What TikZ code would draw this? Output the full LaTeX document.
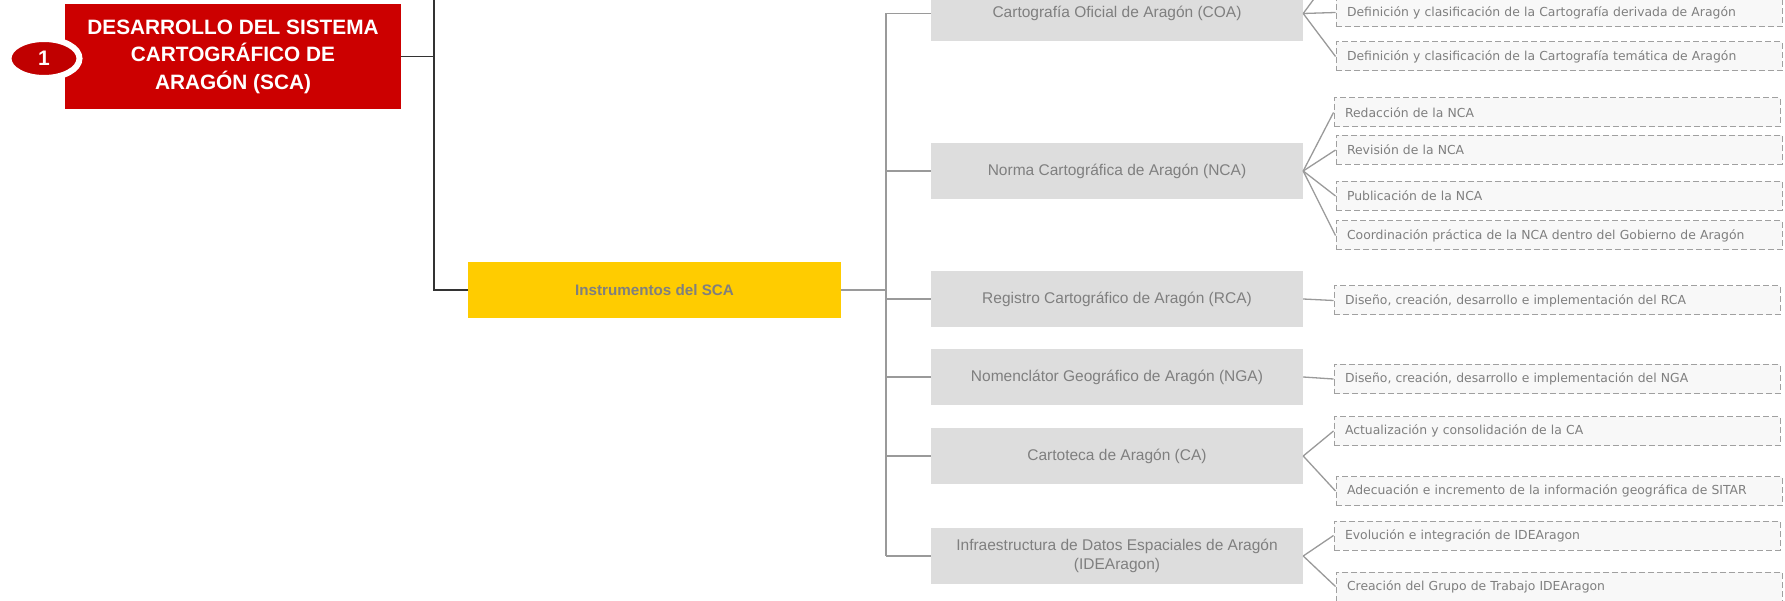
\documentclass[tikz,border=0pt]{standalone}
\usepackage{fontspec}
\setmainfont{Liberation Sans}
\newfontfamily\leaffont{DejaVu Sans}
\usepackage{tikz}
\usetikzlibrary{positioning,shapes.geometric}
\definecolor{Ink}{HTML}{333333}
\definecolor{Wire}{HTML}{9A9A9A}
\definecolor{Muted}{HTML}{7F7F7F}
\definecolor{Red}{HTML}{CC0000}
\definecolor{RedDark}{HTML}{C00000}
\definecolor{Gold}{HTML}{FFCC00}
\definecolor{Stone}{HTML}{DDDDDD}
\definecolor{Paper}{HTML}{F8F8F8}
\definecolor{Dash}{HTML}{A0A0A0}
\tikzset{
  mainbox/.style={fill=Red,text=white,minimum width=336pt,minimum height=105pt,inner sep=0pt,align=center,font=\fontsize{20.8}{27.5}\selectfont\bfseries},
  badge/.style={ellipse,fill=RedDark,draw=white,line width=6pt,minimum width=71pt,minimum height=39pt,inner sep=0pt,text=white,font=\fontsize{21}{21}\selectfont\bfseries},
  groupbox/.style={fill=Gold,text=Muted,minimum width=373pt,minimum height=56pt,inner sep=0pt,font=\fontsize{15.2}{17}\selectfont\bfseries},
  itembox/.style={fill=Stone,text=Muted,minimum width=372pt,minimum height=56pt,inner sep=0pt,align=center,font=\fontsize{15.5}{19}\selectfont},
  taskbox/.style={draw=Dash,line width=1pt,dash pattern=on 6pt off 3pt,fill=Paper,text=Muted,minimum width=446pt,minimum height=29pt,text width=424pt,inner xsep=11pt,inner ysep=0pt,align=left,font=\leaffont\fontsize{12.4}{14}\selectfont},
  bus/.style={draw=Ink,line width=1.5pt},
  twig/.style={draw=Wire,line width=1.3pt}
}
\begin{document}
\begin{tikzpicture}[x=1pt,y=-1pt]
  \path[use as bounding box,clip] (0,0) rectangle (1785,601);
  \fill[white] (0,0) rectangle (1785,601);
  \node[mainbox] (sca) at (233,56.5) {DESARROLLO DEL SISTEMA\\CARTOGRÁFICO DE\\ARAGÓN (SCA)};
  \node[badge] (num) at (44,58.5) {1};
  \node[groupbox] (inst) at (654.5,290) {Instrumentos del SCA};
  \coordinate (root) at (434,-40);
  \draw[bus] (root) |- (inst.west);
  \draw[bus] (sca.east) -- (sca.east -| root);

  \node[itembox] (coa) at (1117,13.5) {Cartografía Oficial de Aragón (COA)};
  \node[itembox] (nca) at (1117,171) {Norma Cartográfica de Aragón (NCA)};
  \node[itembox] (rca) at (1117,299) {Registro Cartográfico de Aragón (RCA)};
  \node[itembox] (nga) at (1117,377) {Nomenclátor Geográfico de Aragón (NGA)};
  \node[itembox] (ca) at (1117,456) {Cartoteca de Aragón (CA)};
  \node[itembox] (ide) at (1117,556) {Infraestructura de Datos Espaciales de Aragón\\(IDEAragon)};
  \coordinate (spine) at (886,0);
  \draw[twig] (inst.east) -- (inst.east -| spine);
  \draw[twig] (coa.west -| spine) -- (ide.west -| spine);
  \foreach \n in {coa,nca,rca,nga,ca,ide}
    \draw[twig] (\n.west -| spine) -- (\n.west);

  \coordinate (a0) at (1336,-31);
  \node[taskbox] (a1) at (1559,12.5) {Definición y clasificación de la Cartografía derivada de Aragón};
  \node[taskbox] (a2) at (1559,56.5) {Definición y clasificación de la Cartografía temática de Aragón};
  \node[taskbox] (b1) at (1557,112.5) {Redacción de la NCA};
  \node[taskbox] (b2) at (1559,150) {Revisión de la NCA};
  \node[taskbox] (b3) at (1559,196) {Publicación de la NCA};
  \node[taskbox] (b4) at (1559,235.5) {Coordinación práctica de la NCA dentro del Gobierno de Aragón};
  \node[taskbox] (c1) at (1557,300.5) {Diseño, creación, desarrollo e implementación del RCA};
  \node[taskbox] (d1) at (1557,379) {Diseño, creación, desarrollo e implementación del NGA};
  \node[taskbox] (e1) at (1557,431) {Actualización y consolidación de la CA};
  \node[taskbox] (e2) at (1559,491) {Adecuación e incremento de la información geográfica de SITAR};
  \node[taskbox] (f1) at (1557,535.5) {Evolución e integración de IDEAragon};
  \node[taskbox] (f2) at (1559,586.5) {Creación del Grupo de Trabajo IDEAragon};
  \draw[twig] (coa.east) -- (a0);
  \foreach \p/\c in {coa/a1,coa/a2,nca/b1,nca/b2,nca/b3,nca/b4,rca/c1,nga/d1,ca/e1,ca/e2,ide/f1,ide/f2}
    \draw[twig] (\p.east) -- (\c.west);
\end{tikzpicture}
\end{document}
